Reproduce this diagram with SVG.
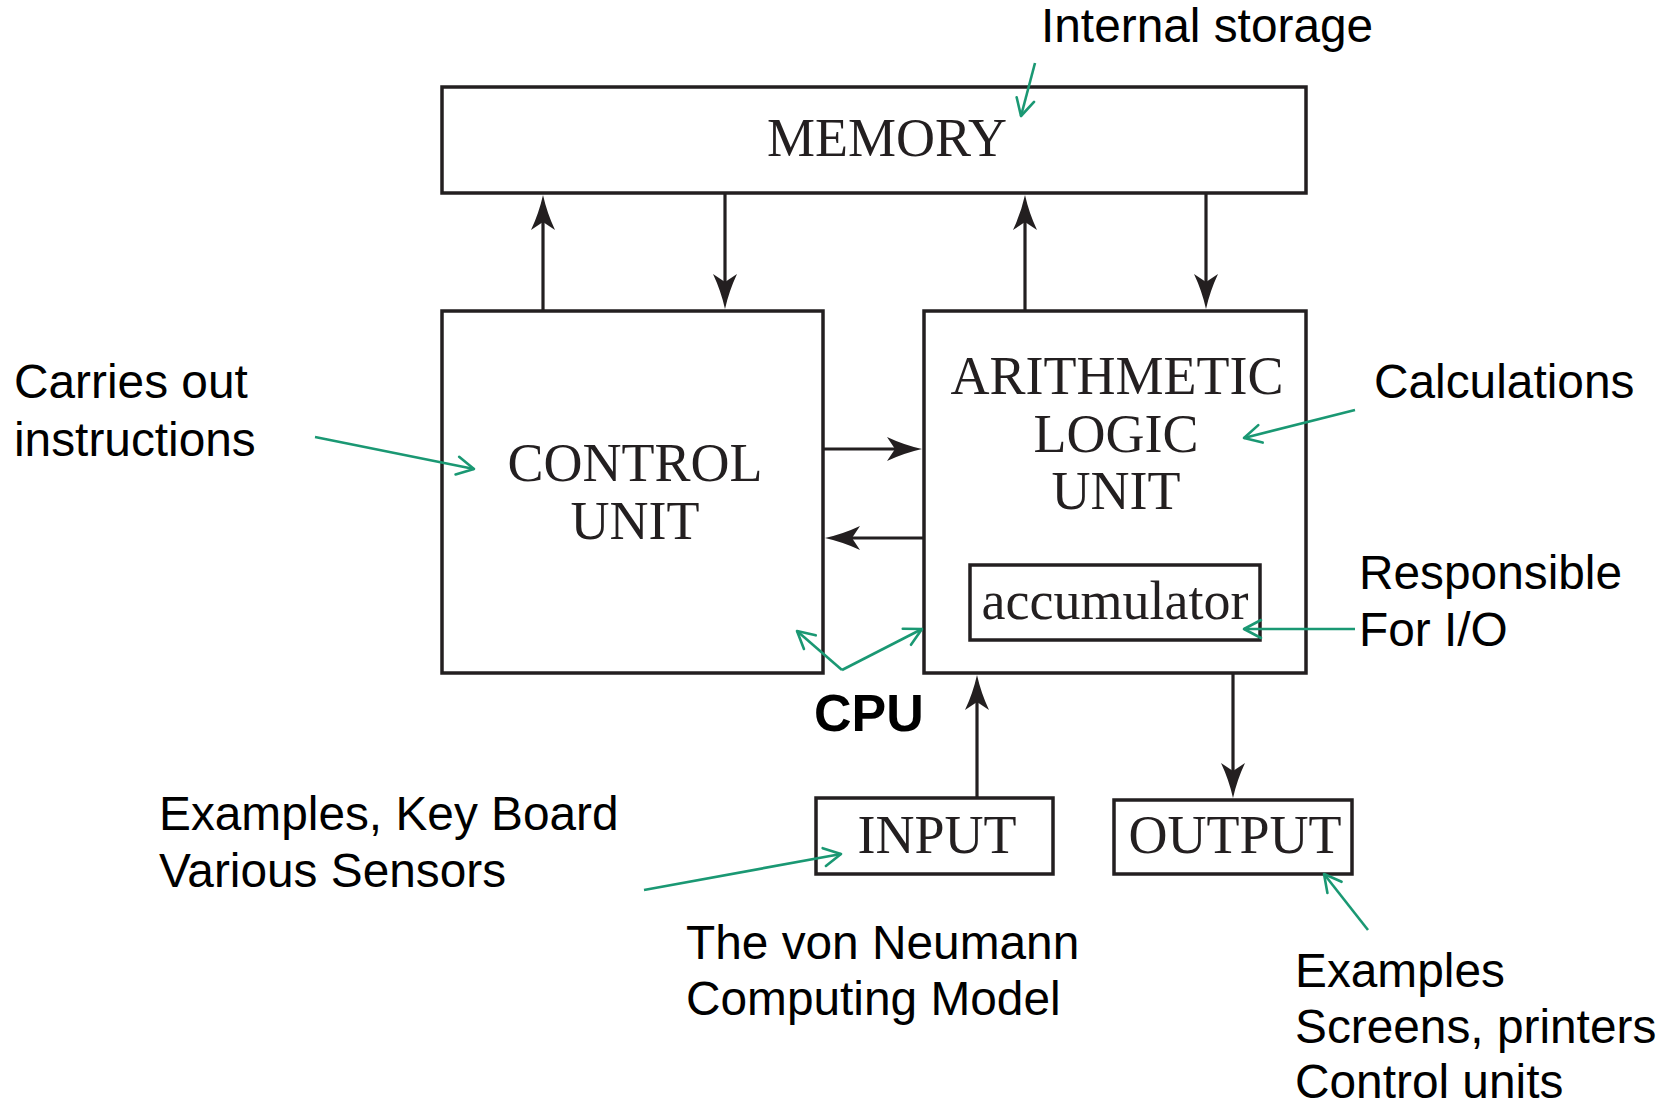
<svg xmlns="http://www.w3.org/2000/svg" width="1670" height="1107" viewBox="0 0 1670 1107">
<style>
.box{fill:#fff;stroke:#231f20;stroke-width:3.5}
.lbl{font-family:"Liberation Serif","Times New Roman",serif;font-size:54px;fill:#231f20;text-anchor:middle}
.note{font-family:"Liberation Sans",Arial,sans-serif;font-size:47.8px;fill:#000}
.conn{stroke:#231f20;stroke-width:3.2;fill:none;marker-end:url(#ah)}
.ann{stroke:#1a9873;stroke-width:2.6;fill:none;marker-end:url(#oh)}
</style>
<defs>
<marker id="ah" markerUnits="userSpaceOnUse" markerWidth="40" markerHeight="26" viewBox="-36 -13 40 26" refX="-10" refY="0" orient="auto" overflow="visible">
<path d="M0,0 Q-18,-4 -35,-12 L-27,0 L-35,12 Q-18,4 0,0 Z" fill="#231f20"/>
</marker>
<marker id="oh" markerUnits="userSpaceOnUse" markerWidth="24" markerHeight="24" viewBox="-20 -12 24 24" refX="0" refY="0" orient="auto" overflow="visible">
<path d="M-17,-9 L0,0 L-17,9" fill="none" stroke="#1a9873" stroke-width="2.6" stroke-linecap="round" stroke-linejoin="round"/>
</marker>
</defs>
<rect width="1670" height="1107" fill="#fff"/>

<g id="connectors">
<line class="conn" x1="543" y1="311" x2="543" y2="205"/>
<line class="conn" x1="725" y1="193" x2="725" y2="299"/>
<line class="conn" x1="1025" y1="311" x2="1025" y2="205"/>
<line class="conn" x1="1206" y1="193" x2="1206" y2="299"/>
<line class="conn" x1="823" y1="449" x2="912" y2="449"/>
<line class="conn" x1="924" y1="538" x2="835" y2="538"/>
<line class="conn" x1="977" y1="798" x2="977" y2="685"/>
<line class="conn" x1="1233" y1="673" x2="1233" y2="788"/>
</g>

<g id="memory">
<rect class="box" x="442" y="87" width="864" height="106"/>
<text class="lbl" x="887" y="156">MEMORY</text>
</g>
<g id="control-unit">
<rect class="box" x="442" y="311" width="381" height="362"/>
<text class="lbl" x="635" y="481">CONTROL</text>
<text class="lbl" x="635" y="539">UNIT</text>
</g>
<g id="alu">
<rect class="box" x="924" y="311" width="382" height="362"/>
<text class="lbl" x="1117" y="394">ARITHMETIC</text>
<text class="lbl" x="1116" y="452">LOGIC</text>
<text class="lbl" x="1116" y="509">UNIT</text>
</g>
<g id="accumulator">
<rect class="box" x="970" y="565" width="290" height="75"/>
<text class="lbl" x="1115" y="619">accumulator</text>
</g>
<g id="input">
<rect class="box" x="816" y="798" width="237" height="76"/>
<text class="lbl" x="937" y="853">INPUT</text>
</g>
<g id="output">
<rect class="box" x="1114" y="800" width="238" height="74"/>
<text class="lbl" x="1235" y="853">OUTPUT</text>
</g>

<g id="annotations">
<line class="ann" x1="1035" y1="63" x2="1021" y2="116"/>
<line class="ann" x1="315" y1="437" x2="474" y2="469"/>
<line class="ann" x1="1355" y1="410" x2="1244" y2="438"/>
<line class="ann" x1="1355" y1="629" x2="1244" y2="629"/>
<line class="ann" x1="842" y1="670" x2="797" y2="631"/>
<line class="ann" x1="842" y1="670" x2="922" y2="629"/>
<line class="ann" x1="644" y1="890" x2="841" y2="854"/>
<line class="ann" x1="1368" y1="930" x2="1324" y2="874"/>
</g>

<g id="labels">
<text class="note" x="1041" y="42">Internal storage</text>
<text class="note" x="14" y="398">Carries out</text>
<text class="note" x="14" y="456">instructions</text>
<text class="note" x="1374" y="398">Calculations</text>
<text class="note" x="1359" y="589">Responsible</text>
<text class="note" x="1359" y="646">For I/O</text>
<text class="note" x="814" y="731" style="font-weight:bold;font-size:52px">CPU</text>
<text class="note" x="159" y="830">Examples, Key Board</text>
<text class="note" x="159" y="887">Various Sensors</text>
<text class="note" x="686" y="959">The von Neumann</text>
<text class="note" x="686" y="1015">Computing Model</text>
<text class="note" x="1295" y="987">Examples</text>
<text class="note" x="1295" y="1043">Screens, printers</text>
<text class="note" x="1295" y="1098">Control units</text>
</g>
</svg>
